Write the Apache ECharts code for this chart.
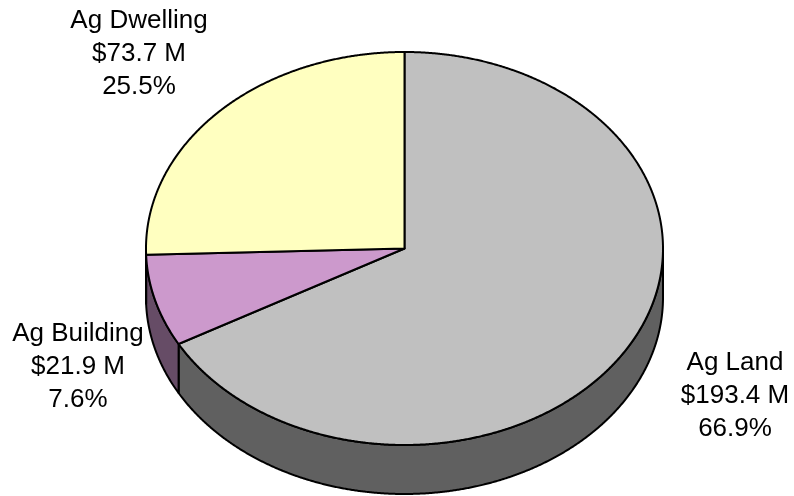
<!DOCTYPE html>
<html>
<head>
<meta charset="utf-8">
<script src="https://cdn.jsdelivr.net/npm/echarts@6/dist/echarts.min.js"></script>
<style>
  html, body { margin: 0; padding: 0; background: #ffffff; }
  #chart { width: 794px; height: 496px; }
</style>
</head>
<body>
<div id="chart"></div>
<script>
// Agricultural property values ($ millions)
const categories = ['Ag Land', 'Ag Building', 'Ag Dwelling'];
const values = [193.4, 21.9, 73.7];

// Slice colours: top faces and darker side walls
const topColors = ['#C0C0C0', '#CC99CC', '#FFFFC0'];
const sideColors = ['#606060', '#664C66', '#808060'];

// Where each label block is centred
const labelAnchors = [[735, 396], [78, 367], [139, 54]];

// Tilted pie geometry: ellipse centre, radii and wall depth
const pie = { cx: 404.5, cy: 248.5, rx: 258.5, ry: 196.5, depth: 49 };

const total = values.reduce((a, b) => a + b, 0);
const starts = [];
values.reduce((acc, v) => { starts.push(acc); return acc + v; }, 0);

// Point on the ellipse rim, angle measured clockwise from 12 o'clock
function rimPoint(deg, dy) {
  const r = deg * Math.PI / 180;
  return [pie.cx + pie.rx * Math.sin(r), pie.cy - pie.ry * Math.cos(r) + (dy || 0)];
}
function rimArc(a1, a2, dy) {
  const pts = [];
  const n = Math.max(2, Math.ceil(Math.abs(a2 - a1) * 4));
  for (let k = 0; k <= n; k++) pts.push(rimPoint(a1 + (a2 - a1) * k / n, dy));
  return pts;
}

function renderSlice(params, api) {
  const i = params.dataIndex;
  const v = api.value(0);
  const a1 = starts[i] / total * 360;
  const a2 = a1 + v / total * 360;
  const children = [];

  // Side wall: only the part of the rim that faces the viewer (90°..270°)
  const b1 = Math.max(a1, 90), b2 = Math.min(a2, 270);
  if (b2 > b1) {
    const wall = rimArc(b1, b2, 0).concat(rimArc(b2, b1, pie.depth));
    children.push({
      type: 'polygon', z2: 1,
      shape: { points: wall },
      style: { fill: sideColors[i], stroke: '#000', lineWidth: 2, lineJoin: 'round' }
    });
  }

  // Top face
  const face = [[pie.cx, pie.cy]].concat(rimArc(a1, a2, 0));
  children.push({
    type: 'polygon', z2: 2,
    shape: { points: face },
    style: { fill: topColors[i], stroke: '#000', lineWidth: 2, lineJoin: 'round' }
  });

  // Label: name, amount, share
  const pct = (v / total * 100).toFixed(1);
  children.push({
    type: 'text', z2: 3,
    style: {
      text: categories[i] + '\n$' + v.toFixed(1) + ' M\n' + pct + '%',
      x: labelAnchors[i][0], y: labelAnchors[i][1],
      align: 'center', verticalAlign: 'middle',
      font: '26px "Liberation Sans", Arial, sans-serif',
      lineHeight: 33, fill: '#000'
    }
  });

  return { type: 'group', children };
}

const chart = echarts.init(document.getElementById('chart'), null, { renderer: 'canvas' });
chart.setOption({
  backgroundColor: '#ffffff',
  animation: false,
  series: [{
    type: 'custom',
    coordinateSystem: 'none',
    renderItem: renderSlice,
    data: values.map((v, i) => ({ name: categories[i], value: [v] }))
  }]
});
</script>
</body>
</html>
